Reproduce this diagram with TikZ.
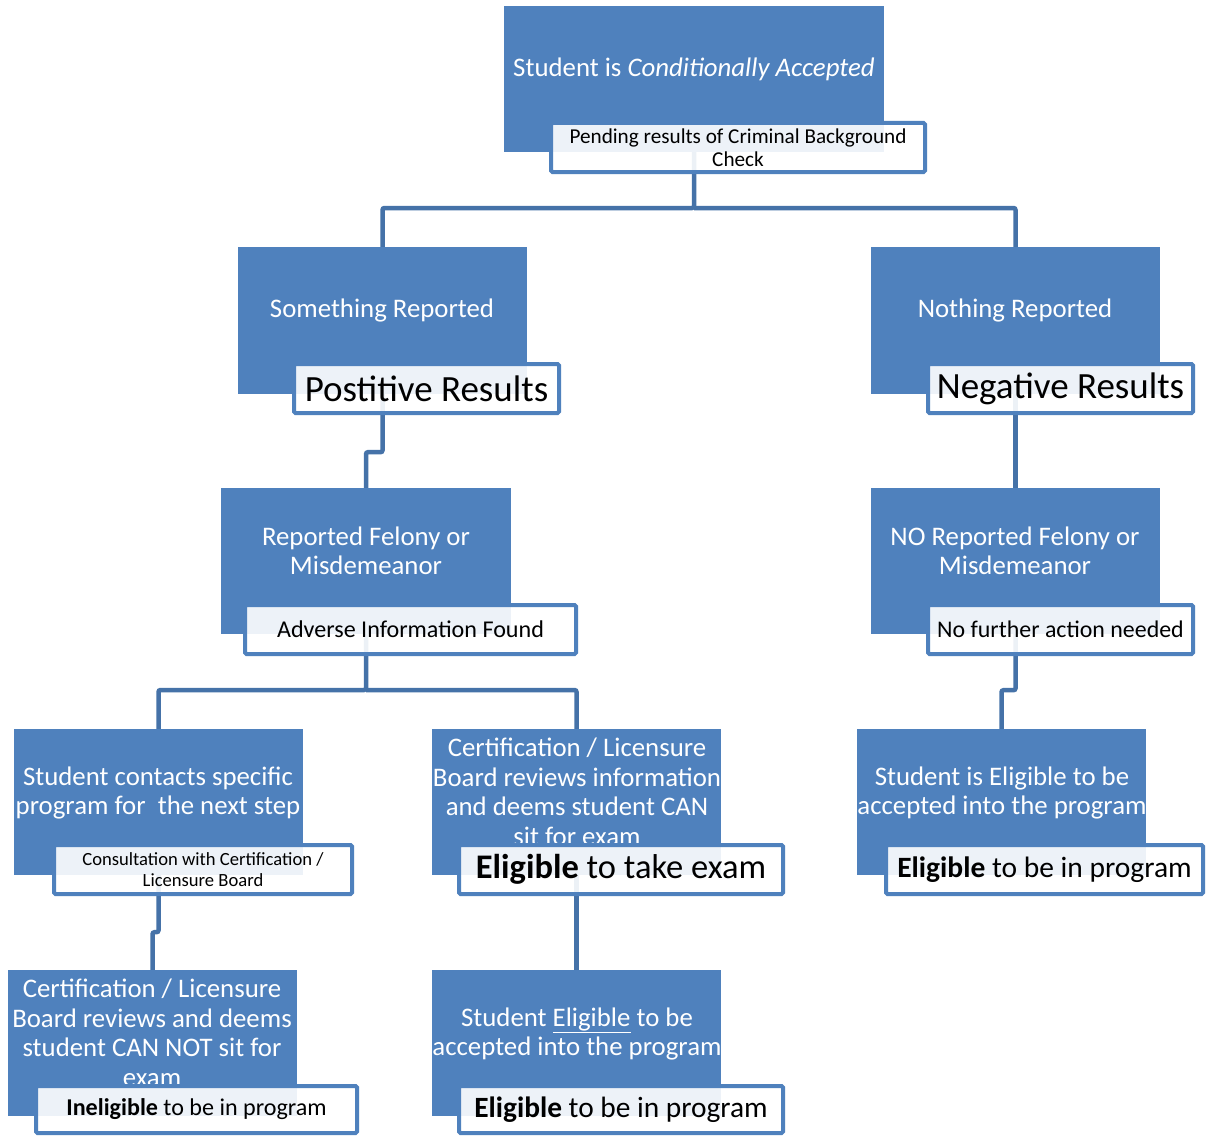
\documentclass[tikz,border=0pt]{standalone}
\usepackage{fontspec}
\setmainfont{Carlito}
\definecolor{accent}{RGB}{79,129,189}
\definecolor{connc}{RGB}{69,114,168}
\tikzset{
  x=1pt, y=-1pt,
  bluebox/.style={fill=accent, draw=none, inner sep=0pt},
  btxt/.style={text=white, align=center, inner sep=0pt, font=\fontsize{26.8}{29.5}\selectfont},
  lbl/.style={fill=white, fill opacity=0.9, text opacity=1, draw=accent, draw opacity=1, line width=4pt, rounded corners=1.5pt, inner sep=0pt, align=center, text=black},
  connector/.style={draw=connc, line width=4.5pt, rounded corners=2pt}
}
\begin{document}
\begin{tikzpicture}
\useasboundingbox (0,0) rectangle (1207,1137);
\fill[white] (0,0) rectangle (1207,1137);
% blue boxes
\node[bluebox, minimum width=380pt, minimum height=146pt] (b1) at (694,79) {};
\node[bluebox, minimum width=289pt, minimum height=147pt] (b2) at (382.5,320.5) {};
\node[bluebox, minimum width=289pt, minimum height=147pt] (b3) at (1015.5,320.5) {};
\node[bluebox, minimum width=290pt, minimum height=146pt] (b4) at (366,561) {};
\node[bluebox, minimum width=289pt, minimum height=146pt] (b5) at (1015.5,561) {};
\node[bluebox, minimum width=289pt, minimum height=146pt] (b6) at (158.5,802) {};
\node[bluebox, minimum width=289pt, minimum height=146pt] (b7) at (576.5,802) {};
\node[bluebox, minimum width=289pt, minimum height=146pt] (b8) at (1001.5,802) {};
\node[bluebox, minimum width=289pt, minimum height=146pt] (b9) at (152.5,1043) {};
\node[bluebox, minimum width=289pt, minimum height=146pt] (b10) at (576.5,1043) {};
% texts in blue boxes
\node[btxt] (t1) at (694,69) {Student is \textit{Conditionally Accepted}};
\node[btxt] (t2) at (382,310) {Something Reported};
\node[btxt] (t3) at (1015,310) {Nothing Reported};
\node[btxt] (t4) at (366,551) {Reported Felony or\\Misdemeanor};
\node[btxt] (t5) at (1015,551) {NO Reported Felony or\\Misdemeanor};
\node[btxt] (t6) at (158,793) {Student contacts specific\\program for\ \ the next step};
\node[btxt] (t7) at (577,792) {Certification / Licensure\\Board reviews information\\and deems student CAN\\sit for exam};
\node[btxt] (t8) at (1002,793) {Student is Eligible to be\\accepted into the program};
\node[btxt] (t9) at (152,1033) {Certification / Licensure\\Board reviews and deems\\student CAN NOT sit for\\exam};
\node[btxt] (t10) at (577,1034) {Student \underline{Eligible} to be\\accepted into the program};
% connectors
\coordinate (j1) at (694,208);
\draw[connector] (b1.south) -- (j1) -| (b2.north);
\draw[connector] (j1) -| (b3.north);
\draw[connector] (b2.south) -- ++(0,58) -| (b4.north);
\draw[connector] (b3.south) -- (b5.north);
\coordinate (j2) at (366,690);
\draw[connector] (b4.south) -- (j2) -| (b6.north);
\draw[connector] (j2) -| (b7.north);
\draw[connector] (b5.south) -- ++(0,56) -| (b8.north);
\draw[connector] (b6.south) -- ++(0,57) -| (b9.north);
\draw[connector] (b7.south) -- (b10.north);
% labels
\node[lbl, minimum width=374pt, minimum height=49pt, font=\fontsize{21.2}{23}\selectfont] (l1) at (738,147.5) {Pending results of Criminal Background\\Check};
\node[lbl, minimum width=265pt, minimum height=49pt, font=\fontsize{37}{40}\selectfont] (l2) at (426.5,388.5) {Postitive Results};
\node[lbl, minimum width=265pt, minimum height=49pt, font=\fontsize{37}{40}\selectfont] (l3) at (1060.5,388.5) {Negative Results};
\node[lbl, minimum width=331pt, minimum height=49pt, font=\fontsize{24.1}{28}\selectfont] (l4) at (410.5,629.5) {Adverse Information Found};
\node[lbl, minimum width=265pt, minimum height=49pt, font=\fontsize{23.9}{28}\selectfont] (l5) at (1060.5,629.5) {No further action needed};
\node[lbl, minimum width=298pt, minimum height=49pt, font=\fontsize{18.6}{21}\selectfont] (l6) at (203,869.5) {Consultation with Certification /\\Licensure Board};
\node[lbl, minimum width=324pt, minimum height=49pt, font=\fontsize{34.5}{38}\selectfont] (l7) at (621,869.5) {\textbf{Eligible} to take exam};
\node[lbl, minimum width=317pt, minimum height=49pt, font=\fontsize{29.5}{33}\selectfont] (l8) at (1044.5,869.5) {\textbf{Eligible} to be in program};
\node[lbl, minimum width=321pt, minimum height=47pt, font=\fontsize{24.1}{28}\selectfont] (l9) at (196.5,1109.5) {\textbf{Ineligible} to be in program};
\node[lbl, minimum width=324pt, minimum height=47pt, font=\fontsize{29.4}{33}\selectfont] (l10) at (621,1109.5) {\textbf{Eligible} to be in program};
\end{tikzpicture}
\end{document}
